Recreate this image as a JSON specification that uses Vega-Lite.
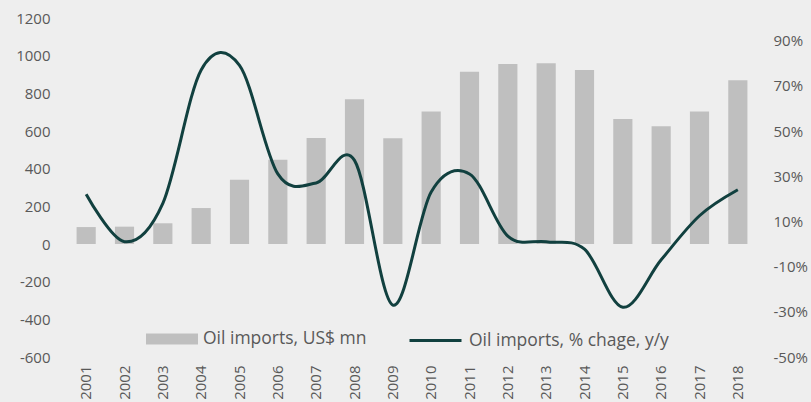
{
  "$schema": "https://vega.github.io/schema/vega-lite/v6.json",
  "autosize": {"type": "none"},
  "width": 690,
  "height": 339,
  "padding": {"left": 67, "top": 18, "right": 54, "bottom": 45},
  "background": "#eeeeee",
  "config": {
    "view": {"stroke": null},
    "font": "Open Sans",
    "axis": {"labelColor": "#595959", "labelFontSize": 15, "domain": false, "ticks": false, "grid": false, "title": null, "labelOverlap": false, "labelFlush": false},
    "legend": {"labelColor": "#595959", "labelFontSize": 17.5, "title": null, "labelLimit": 400}
  },
  "data": {
    "values": [
      {"year": "2001", "imports": 90, "change": 22},
      {"year": "2002", "imports": 92, "change": 1},
      {"year": "2003", "imports": 110, "change": 18},
      {"year": "2004", "imports": 191, "change": 77},
      {"year": "2005", "imports": 341, "change": 79},
      {"year": "2006", "imports": 448, "change": 31},
      {"year": "2007", "imports": 563, "change": 27},
      {"year": "2008", "imports": 768, "change": 37},
      {"year": "2009", "imports": 561, "change": -27},
      {"year": "2010", "imports": 703, "change": 23},
      {"year": "2011", "imports": 915, "change": 31},
      {"year": "2012", "imports": 956, "change": 3.5},
      {"year": "2013", "imports": 960, "change": 1},
      {"year": "2014", "imports": 924, "change": -2.3},
      {"year": "2015", "imports": 664, "change": -28},
      {"year": "2016", "imports": 625, "change": -7},
      {"year": "2017", "imports": 703, "change": 12.5},
      {"year": "2018", "imports": 869, "change": 24}
    ]
  },
  "encoding": {
    "x": {
      "field": "year",
      "type": "ordinal",
      "scale": {"paddingInner": 0.5, "paddingOuter": 0.25},
      "axis": {"labelAngle": -90, "labelPadding": 8}
    }
  },
  "layer": [
    {
      "layer": [
        {
          "mark": {"type": "bar"},
          "encoding": {
            "y": {
              "field": "imports",
              "type": "quantitative",
              "scale": {"domain": [-600, 1200], "nice": false},
              "axis": {"values": [-600, -400, -200, 0, 200, 400, 600, 800, 1000, 1200], "labelExpr": "'' + datum.value", "labelPadding": 17, "labelOverlap": false, "labelFlush": false, "labelBound": false}
            },
            "fill": {
              "datum": "Oil imports, US$ mn",
              "scale": {"range": ["#bfbfbf"]},
              "legend": {
                "orient": "none",
                "legendX": 79,
                "legendY": 295,
                "symbolType": "M-1,-0.2115H1V0.2115H-1Z",
                "symbolSize": 2704,
                "symbolStrokeWidth": 0,
                "labelOffset": 5
              }
            }
          }
        },
        {
          "mark": {"type": "rule", "color": "#dadada", "strokeWidth": 2},
          "encoding": {
            "y": {
              "datum": 0,
              "type": "quantitative",
              "axis": {"values": [-600, -400, -200, 0, 200, 400, 600, 800, 1000, 1200], "labelExpr": "'' + datum.value", "labelPadding": 17, "labelOverlap": false, "labelFlush": false, "labelBound": false}
            }
          }
        }
      ]
    },
    {
      "mark": {"type": "line", "interpolate": "cardinal", "strokeWidth": 3},
      "encoding": {
        "y": {
          "field": "change",
          "type": "quantitative",
          "scale": {"domain": [-50, 100], "nice": false},
          "axis": {"orient": "right", "values": [-50, -30, -10, 10, 30, 50, 70, 90], "labelExpr": "datum.value + '%'", "labelPadding": 16, "labelOverlap": false}
        },
        "stroke": {
          "datum": "Oil imports, % chage, y/y",
          "scale": {"range": ["#11403f"]},
          "legend": {
            "orient": "none",
            "legendX": 341,
            "legendY": 295,
            "symbolType": "stroke",
            "symbolSize": 2704,
            "symbolStrokeWidth": 3,
            "labelOffset": 6
          }
        }
      }
    }
  ],
  "resolve": {"scale": {"y": "independent"}}
}
